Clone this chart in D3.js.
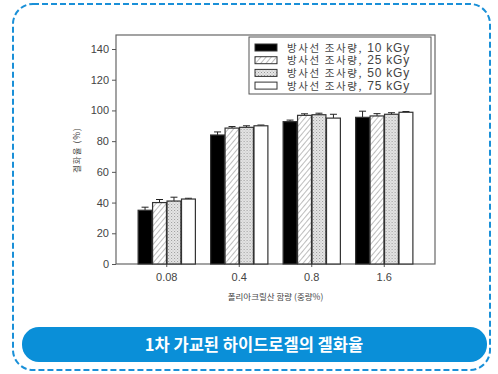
<!DOCTYPE html>
<html>
<head>
<meta charset="utf-8">
<script src="https://cdn.jsdelivr.net/npm/d3@7"></script>
<style>
  body { margin: 0; background: #fff; }
  svg { display: block; font-family: "Liberation Sans", Arial, sans-serif; }
  .tick text { fill: #444; font-size: 11px; }
  .legend text { fill: #444; }
  .legend .ko { font-size: 10.5px; font-family: "Noto Sans CJK KR", sans-serif; letter-spacing: 1.6px; }
  .legend .en { font-size: 12px; font-family: "Liberation Sans", Arial, sans-serif; letter-spacing: 0.8px; }
  .axis-label { fill: #444; font-size: 8.5px; font-family: "Noto Sans CJK KR", sans-serif; }
  .title { fill: #fff; font-size: 16.5px; font-weight: bold; font-family: "Noto Sans CJK KR", sans-serif; }
</style>
</head>
<body>
<svg width="498" height="374"></svg>
<script>
const categories = ['0.08', '0.4', '0.8', '1.6'];
const seriesNames = ['방사선 조사량, 10 kGy', '방사선 조사량, 25 kGy', '방사선 조사량, 50 kGy', '방사선 조사량, 75 kGy'];
const values = [
  [35, 84, 92.7, 95.5],
  [40, 88.5, 96.8, 96.4],
  [41, 89, 97.2, 97.5],
  [42.3, 90, 95, 98.8]
];
const errors = [
  [2, 2, 1, 4],
  [2, 1, 1, 1.5],
  [2.5, 1, 1, 1],
  [0.5, 0.5, 2.5, 0.5]
];
const yTicks = [0, 20, 40, 60, 80, 100, 120, 140];

const svg = d3.select('svg');
const defs = svg.append('defs');

defs.append('pattern')
  .attr('id', 'hatch')
  .attr('patternUnits', 'userSpaceOnUse')
  .attr('width', 4).attr('height', 4)
  .attr('patternTransform', 'rotate(40)')
  .call(p => {
    p.append('rect').attr('width', 4).attr('height', 4).attr('fill', '#fff');
    p.append('line').attr('x1', 0).attr('y1', 0).attr('x2', 0).attr('y2', 4)
      .attr('stroke', '#999').attr('stroke-width', 1.3);
  });

defs.append('pattern')
  .attr('id', 'dots')
  .attr('patternUnits', 'userSpaceOnUse')
  .attr('width', 3).attr('height', 3)
  .call(p => {
    p.append('rect').attr('width', 3).attr('height', 3).attr('fill', '#e6e6e6');
    p.append('rect').attr('x', 0).attr('y', 0).attr('width', 1).attr('height', 1).attr('fill', '#999');
    p.append('rect').attr('x', 1.5).attr('y', 1.5).attr('width', 1).attr('height', 1).attr('fill', '#b5b5b5');
  });

const fills = ['#000', 'url(#hatch)', 'url(#dots)', '#fff'];

// dashed outer frame
svg.append('rect')
  .attr('x', 13).attr('y', 4).attr('width', 477).attr('height', 366)
  .attr('rx', 20).attr('ry', 20)
  .attr('fill', 'none').attr('stroke', '#1a90d8')
  .attr('stroke-width', 2).attr('stroke-dasharray', '6,3');

const plotLeft = 116, plotRight = 435, plotTop = 35, plotBottom = 264;

const xScale = d3.scaleBand()
  .domain(categories)
  .range([plotLeft, plotRight])
  .paddingInner(0.21)
  .paddingOuter(0.305);

const xSub = d3.scaleBand()
  .domain(d3.range(seriesNames.length))
  .range([0, xScale.bandwidth()])
  .paddingInner(0.04);

const yScale = d3.scaleLinear()
  .domain([0, 140])
  .range([plotBottom, plotBottom - 215]);

// plot frame
svg.append('rect')
  .attr('x', plotLeft).attr('y', plotTop)
  .attr('width', plotRight - plotLeft).attr('height', plotBottom - plotTop)
  .attr('fill', 'none').attr('stroke', '#666').attr('stroke-width', 1.2);

const yAxis = d3.axisLeft(yScale).tickValues(yTicks).tickSize(4).tickPadding(3);
const yAxisG = svg.append('g').attr('transform', `translate(${plotLeft},0)`).call(yAxis);
yAxisG.select('.domain').remove();
yAxisG.selectAll('.tick line').attr('stroke', '#555');

const xAxis = d3.axisBottom(xScale).tickSize(3).tickPadding(6);
const xAxisG = svg.append('g').attr('transform', `translate(0,${plotBottom})`).call(xAxis);
xAxisG.select('.domain').remove();
xAxisG.selectAll('.tick line').attr('stroke', '#555');

// bars
const groups = svg.append('g').selectAll('g')
  .data(categories)
  .join('g')
  .attr('transform', d => `translate(${xScale(d)},0)`);

groups.each(function(cat, ci) {
  const g = d3.select(this);
  seriesNames.forEach((s, si) => {
    const v = values[si][ci];
    const e = errors[si][ci];
    const x = xSub(si), w = xSub.bandwidth();
    const cx = x + w / 2;
    g.append('line')
      .attr('x1', cx).attr('x2', cx)
      .attr('y1', yScale(v)).attr('y2', yScale(v + e))
      .attr('stroke', '#222').attr('stroke-width', 1);
    g.append('line')
      .attr('x1', cx - 3.5).attr('x2', cx + 3.5)
      .attr('y1', yScale(v + e)).attr('y2', yScale(v + e))
      .attr('stroke', '#222').attr('stroke-width', 1);
    g.append('rect')
      .attr('x', x).attr('width', w)
      .attr('y', yScale(v)).attr('height', yScale(0) - yScale(v))
      .attr('fill', fills[si])
      .attr('stroke', '#333').attr('stroke-width', 1.2);
  });
});

// legend
const legend = svg.append('g').attr('class', 'legend');
legend.append('rect')
  .attr('x', 249).attr('y', 37).attr('width', 182).attr('height', 57)
  .attr('fill', '#fff').attr('stroke', '#555').attr('stroke-width', 1);
seriesNames.forEach((s, i) => {
  const y = 47.5 + i * 12.7;
  const cut = s.indexOf(',') + 1;
  legend.append('rect')
    .attr('x', 255).attr('y', y - 3.5).attr('width', 22).attr('height', 7)
    .attr('fill', fills[i]).attr('stroke', '#333').attr('stroke-width', 1);
  const t = legend.append('text')
    .attr('x', 287).attr('y', y + 4);
  t.append('tspan').attr('class', 'ko').text(s.slice(0, cut));
  t.append('tspan').attr('class', 'en').text(s.slice(cut));
});

// axis labels
svg.append('text')
  .attr('class', 'axis-label')
  .attr('transform', `translate(80,150) rotate(-90)`)
  .attr('text-anchor', 'middle')
  .attr('letter-spacing', 1)
  .text('겔화율 (%)');

svg.append('text')
  .attr('class', 'axis-label')
  .attr('x', (plotLeft + plotRight) / 2).attr('y', 300)
  .attr('text-anchor', 'middle')
  .text('폴리아크릴산 함량 (중량%)');

// title banner
svg.append('rect')
  .attr('x', 22).attr('y', 327).attr('width', 465).attr('height', 35)
  .attr('rx', 17).attr('ry', 17)
  .attr('fill', '#0a8fd8');
svg.append('text')
  .attr('class', 'title')
  .attr('x', 254).attr('y', 351)
  .attr('text-anchor', 'middle')
  .text('1차 가교된 하이드로겔의 겔화율');
</script>
</body>
</html>
